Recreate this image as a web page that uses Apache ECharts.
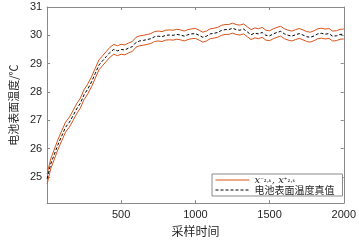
<!DOCTYPE html>
<html>
<head>
<meta charset="utf-8">
<script src="https://cdn.jsdelivr.net/npm/echarts@6/dist/echarts.min.js"></script>
<style>html,body{margin:0;padding:0;background:#fff;}#c{width:359px;height:242px;}</style>
</head>
<body>
<div id="c"></div>
<script>
var samples = [1,25,50,75,100,125,150,175,200,225,250,275,300,325,350,375,400,425,450,475,500,525,550,575,600,625,650,675,700,725,750,775,800,825,850,875,900,925,950,975,1000,1025,1050,1075,1100,1125,1150,1175,1200,1225,1250,1275,1300,1325,1350,1375,1400,1425,1450,1475,1500,1525,1550,1575,1600,1625,1650,1675,1700,1725,1750,1775,1800,1825,1850,1875,1900,1925,1950,1975,2000];
var trueTemp = [24.93,25.45,25.8,26.15,26.45,26.75,26.92,27.15,27.4,27.6,27.9,28.1,28.35,28.65,28.95,29.1,29.25,29.4,29.5,29.45,29.5,29.48,29.55,29.6,29.75,29.8,29.82,29.85,29.88,29.95,29.97,29.95,30.0,30.01,30.0,30.03,30.01,29.97,30.02,30.05,30.06,30.0,29.93,29.97,30.05,30.07,30.1,30.17,30.2,30.2,30.25,30.2,30.18,30.22,30.12,30.02,30.08,30.05,30.1,30.0,29.98,30.05,30.1,30.14,30.05,30.0,29.97,30.02,30.06,30.01,29.95,29.93,29.98,30.05,30.07,30.04,30.06,29.97,29.98,30.03,30.04];
var upperTemp = [25.1,25.63,25.98,26.33,26.63,26.93,27.1,27.33,27.58,27.78,28.08,28.28,28.53,28.83,29.13,29.28,29.43,29.58,29.68,29.63,29.68,29.66,29.73,29.78,29.93,29.98,30.0,30.03,30.06,30.13,30.15,30.13,30.18,30.19,30.18,30.21,30.19,30.15,30.2,30.23,30.24,30.18,30.11,30.15,30.23,30.25,30.28,30.35,30.38,30.38,30.43,30.38,30.36,30.4,30.3,30.2,30.26,30.23,30.28,30.18,30.16,30.23,30.28,30.32,30.23,30.18,30.15,30.2,30.24,30.19,30.13,30.11,30.16,30.23,30.25,30.22,30.24,30.15,30.16,30.21,30.22];
var lowerTemp = [24.75,25.28,25.63,25.98,26.28,26.58,26.75,26.98,27.23,27.43,27.73,27.93,28.18,28.48,28.78,28.93,29.08,29.23,29.33,29.28,29.33,29.31,29.38,29.43,29.58,29.63,29.65,29.68,29.71,29.78,29.8,29.78,29.83,29.84,29.83,29.86,29.84,29.8,29.85,29.88,29.89,29.83,29.76,29.8,29.88,29.9,29.93,30.0,30.03,30.03,30.08,30.03,30.01,30.05,29.95,29.85,29.91,29.88,29.93,29.83,29.81,29.88,29.93,29.97,29.88,29.83,29.8,29.85,29.89,29.84,29.78,29.76,29.81,29.88,29.9,29.87,29.89,29.8,29.81,29.86,29.87];
var yTicks = [25,26,27,28,29,30,31];
var xTicks = [500,1000,1500,2000];

function pairs(ys){ return samples.map(function(x,i){ return [x, ys[i]]; }); }

var axisCol = '#8a8a8a';
var txtCol = '#262626';
var orange = '#D95319';

var chart = echarts.init(document.getElementById('c'), null, {renderer:'canvas'});
chart.setOption({
  animation: false,
  backgroundColor: '#fff',
  grid: {left: 38, right: 13, top: 7, bottom: 33, containLabel: false},
  xAxis: [{
    type: 'value', min: 1, max: 2000, position: 'bottom',
    name: '采样时间', nameLocation: 'middle', nameGap: 20,
    nameTextStyle: {fontFamily: 'Noto Sans CJK SC', fontSize: 12, color: txtCol},
    axisLine: {show: true, lineStyle: {color: axisCol, width: 1}},
    axisTick: {show: true, inside: true, length: 3, lineStyle: {color: axisCol}, customValues: xTicks},
    axisLabel: {color: txtCol, fontFamily: 'Liberation Sans', fontSize: 11, margin: 6, customValues: xTicks,
      formatter: function(v){ return String(v); }},
    splitLine: {show: false}
  }, {
    type: 'value', min: 1, max: 2000, position: 'top',
    axisLine: {show: true, lineStyle: {color: axisCol, width: 1}},
    axisTick: {show: true, inside: true, length: 3, lineStyle: {color: axisCol}, customValues: xTicks},
    axisLabel: {show: false},
    splitLine: {show: false}
  }],
  yAxis: [{
    type: 'value', min: 24.07, max: 31, position: 'left',
    name: '电池表面温度/℃', nameLocation: 'middle', nameGap: 23, nameRotate: 90,
    nameTextStyle: {fontFamily: 'Noto Sans CJK SC', fontSize: 11, color: txtCol},
    axisLine: {show: true, lineStyle: {color: axisCol, width: 1}},
    axisTick: {show: true, inside: true, length: 3, lineStyle: {color: axisCol}, customValues: yTicks},
    axisLabel: {color: txtCol, fontFamily: 'Liberation Sans', fontSize: 11, margin: 5, customValues: yTicks,
      formatter: function(v){ return String(v); }},
    splitLine: {show: false}
  }, {
    type: 'value', min: 24.07, max: 31, position: 'right',
    axisLine: {show: true, lineStyle: {color: axisCol, width: 1}},
    axisTick: {show: true, inside: true, length: 3, lineStyle: {color: axisCol}, customValues: yTicks},
    axisLabel: {show: false},
    splitLine: {show: false}
  }],
  legend: {
    show: true,
    orient: 'vertical', left: 212, top: 174,
    backgroundColor: '#fff', borderColor: '#8a8a8a', borderWidth: 1,
    padding: [1, 8, 1, 3], itemGap: 0, itemWidth: 34, itemHeight: 12,
    data: ['xbound', '电池表面温度真值'],
    itemStyle: {opacity: 0},
    lineStyle: {width: 1},
    textStyle: {fontFamily: 'Noto Sans CJK SC', fontSize: 10, color: txtCol,
      rich: {
        i: {fontFamily: 'DejaVu Serif', fontStyle: 'italic', fontSize: 10, color: txtCol},
        s: {fontFamily: 'DejaVu Sans', fontSize: 7, color: txtCol},
        c: {fontFamily: 'Noto Sans CJK SC', fontSize: 10, color: txtCol}
      }
    },
    formatter: function(name){
      if (name === 'xbound') return '{i|x}{s|⁻₂,ₖ}{i|, x}{s|⁺₂,ₖ}';
      return '{c|' + name + '}';
    }
  },
  series: [
    {name: 'xbound', type: 'line', data: pairs(lowerTemp), showSymbol: false, symbol: 'none',
     lineStyle: {color: orange, width: 1}, itemStyle: {color: orange}},
    {name: 'xbound', type: 'line', data: pairs(upperTemp), showSymbol: false, symbol: 'none',
     lineStyle: {color: orange, width: 1}, itemStyle: {color: orange}},
    {name: '电池表面温度真值', type: 'line', data: pairs(trueTemp), showSymbol: false, symbol: 'none',
     lineStyle: {color: '#000', width: 1, type: [3, 2]}, itemStyle: {color: '#000'}}
  ]
});
</script>
</body>
</html>
